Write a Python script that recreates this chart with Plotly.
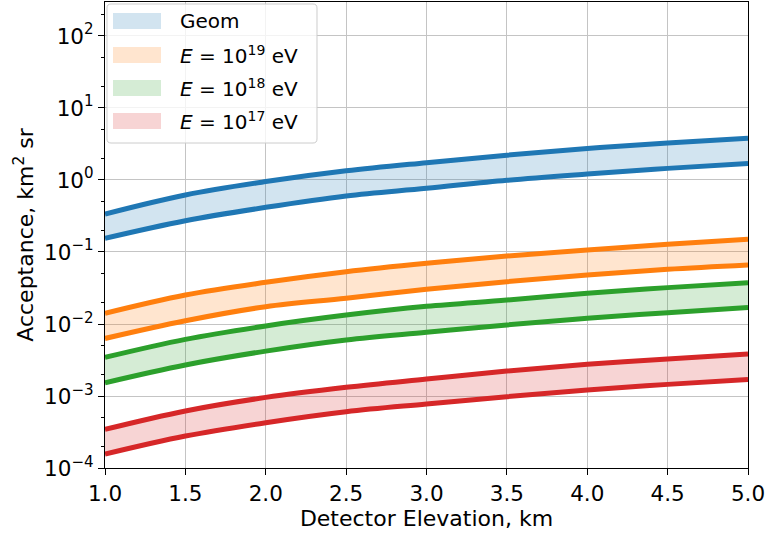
import plotly.graph_objects as go

# ---- data ----
elevation_km = [1.0, 1.5, 2.0, 2.5, 3.0, 3.5, 4.0, 4.5, 5.0]

geom_upper = [0.337, 0.62, 0.95, 1.34, 1.74, 2.21, 2.74, 3.27, 3.8]
geom_lower = [0.155, 0.272, 0.417, 0.60, 0.766, 0.99, 1.21, 1.45, 1.70]

e19_upper = [0.0141, 0.0253, 0.038, 0.0533, 0.0697, 0.088, 0.1066, 0.128, 0.150]
e19_lower = [0.0063, 0.0111, 0.0174, 0.0228, 0.0303, 0.0387, 0.048, 0.0575, 0.066]

e18_upper = [0.00344, 0.00612, 0.0094, 0.0133, 0.0176, 0.0215, 0.0267, 0.032, 0.0375]
e18_lower = [0.00153, 0.0027, 0.0042, 0.0060, 0.00766, 0.0097, 0.012, 0.01436, 0.0169]

e17_upper = [3.44e-4, 6.2e-4, 9.56e-4, 1.32e-3, 1.72e-3, 2.22e-3, 2.75e-3, 3.27e-3, 3.83e-3]
e17_lower = [1.56e-4, 2.78e-4, 4.26e-4, 6.05e-4, 7.74e-4, 9.78e-4, 1.21e-3, 1.45e-3, 1.70e-3]

band_names = ["Geom",
              "<i>E</i> = 10<sup>19</sup> eV",
              "<i>E</i> = 10<sup>18</sup> eV",
              "<i>E</i> = 10<sup>17</sup> eV"]
bands = [(geom_lower, geom_upper), (e19_lower, e19_upper),
         (e18_lower, e18_upper), (e17_lower, e17_upper)]

x_ticks = [1.0, 1.5, 2.0, 2.5, 3.0, 3.5, 4.0, 4.5, 5.0]
x_tick_labels = ["1.0", "1.5", "2.0", "2.5", "3.0", "3.5", "4.0", "4.5", "5.0"]
y_tick_exps = [-4, -3, -2, -1, 0, 1, 2]

# ---- styling ----
colors = ["#1f77b4", "#ff7f0e", "#2ca02c", "#d62728"]
fills = ["rgba(31,119,180,0.2)", "rgba(255,127,14,0.2)",
         "rgba(44,160,44,0.2)", "rgba(214,39,40,0.2)"]
FONT = "DejaVu Sans"
FS_TICK = 21.5
FS_TITLE = 22
FS_LEG = 20
W, H = 769, 533
ML, MR, MT, MB = 105, 21, 2, 65
PW, PH = W - ML - MR, H - MT - MB

fig = go.Figure()
for (lo, up), c, f, name in zip(bands, colors, fills, band_names):
    fig.add_trace(go.Scatter(x=elevation_km, y=lo, mode="lines",
                             line=dict(color=c, width=5, shape="spline", smoothing=1.0),
                             showlegend=False, hoverinfo="skip"))
    fig.add_trace(go.Scatter(x=elevation_km, y=up, mode="lines", fill="tonexty",
                             fillcolor=f,
                             line=dict(color=c, width=5, shape="spline", smoothing=1.0),
                             name=name, showlegend=False))

# ---- manual legend (matplotlib-like) ----
def px2paper(xp, yp):
    return (xp - ML) / PW, (H - MB - yp) / PH

def conv_path(p):
    out = []
    for tok in p.split():
        if "," in tok:
            a, b = tok.split(",")
            xx, yy = px2paper(float(a), float(b))
            out.append(f"{xx:.5f},{yy:.5f}")
        else:
            out.append(tok)
    return " ".join(out)

shapes = []
lx0, ly0, lx1, ly1 = 107, 4, 317, 143
r = 4
path = (f"M {lx0 + r},{ly0} L {lx1 - r},{ly0} Q {lx1},{ly0} {lx1},{ly0 + r} "
        f"L {lx1},{ly1 - r} Q {lx1},{ly1} {lx1 - r},{ly1} L {lx0 + r},{ly1} "
        f"Q {lx0},{ly1} {lx0},{ly1 - r} L {lx0},{ly0 + r} Q {lx0},{ly0} {lx0 + r},{ly0} Z")
shapes.append(dict(type="path", xref="paper", yref="paper", path=conv_path(path),
                   fillcolor="rgba(255,255,255,0.8)", line=dict(color="#cccccc", width=1),
                   layer="above"))
annotations = []
row_y = [21, 55, 88, 121]
for yc, f, name in zip(row_y, fills, band_names):
    x0, y0 = px2paper(113, yc - 8)
    x1, y1 = px2paper(161, yc + 8)
    shapes.append(dict(type="rect", xref="paper", yref="paper", x0=x0, x1=x1, y0=y1, y1=y0,
                       fillcolor=f, line=dict(width=0), layer="above"))
    tx, ty = px2paper(178, yc)
    annotations.append(dict(x=tx, y=ty, xref="paper", yref="paper", text=name,
                            showarrow=False, xanchor="left", yanchor="middle",
                            font=dict(family=FONT, size=FS_LEG, color="black")))

fig.update_layout(
    width=W, height=H,
    margin=dict(l=ML, r=MR, t=MT, b=MB, autoexpand=False),
    paper_bgcolor="white", plot_bgcolor="white",
    font=dict(family=FONT, size=FS_TICK, color="black"),
    shapes=shapes, annotations=annotations,
    showlegend=False,
)
fig.update_xaxes(
    range=[1.0, 5.0], tickvals=x_ticks, ticktext=x_tick_labels, automargin=False,
    showgrid=True, gridcolor="#c4c4c4", gridwidth=1,
    showline=True, linecolor="black", linewidth=1.2, mirror=True,
    ticks="outside", ticklen=6, tickcolor="black", zeroline=False,
    tickfont=dict(family=FONT, size=FS_TICK),
    title=dict(text="Detector Elevation, km", font=dict(family=FONT, size=FS_TITLE), standoff=0),
)
fig.update_yaxes(
    type="log", range=[-4, 2.472], automargin=False,
    tickvals=[10.0 ** e for e in y_tick_exps],
    ticktext=[f"10<sup>{str(e).replace('-', '−')}</sup>" for e in y_tick_exps],
    showgrid=True, gridcolor="#c4c4c4", gridwidth=1,
    showline=True, linecolor="black", linewidth=1.2, mirror=True,
    ticks="outside", ticklen=6, tickcolor="black", zeroline=False,
    minor=dict(ticks="outside", ticklen=3, tickcolor="black", showgrid=False),
    tickfont=dict(family=FONT, size=FS_TICK),
    title=dict(text="Acceptance, km<sup>2</sup> sr", font=dict(family=FONT, size=FS_TITLE), standoff=4),
)

fig.write_html("out.html", config={"displayModeBar": False},
               post_script="document.body.style.margin='0px';document.body.style.overflow='hidden';")
